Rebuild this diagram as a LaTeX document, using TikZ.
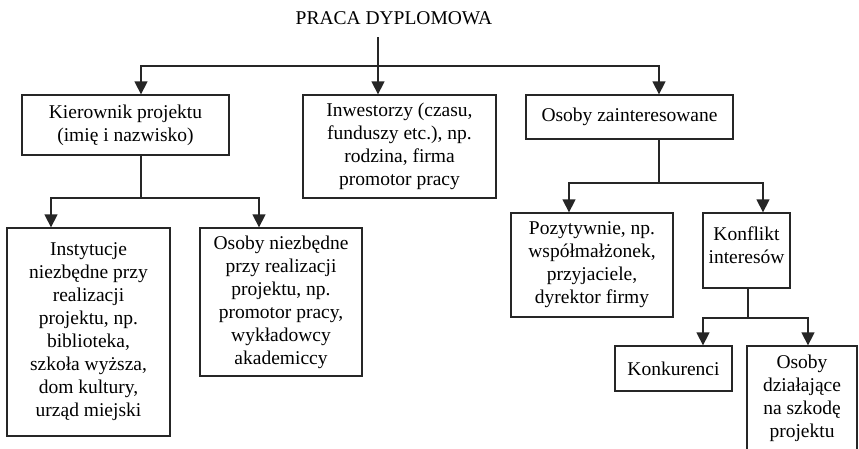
\documentclass[tikz,border=0pt]{standalone}
\usepackage{fontspec}
\setmainfont{Liberation Serif}
\usetikzlibrary{arrows.meta}

\begin{document}
\begin{tikzpicture}[
  x=1pt, y=-1pt,
  % === Node styles ===
  box/.style={
    draw=black!85, line width=1.3pt,
    align=center, inner sep=0pt,
    font=\rmfamily\fontsize{19.5}{23}\selectfont
  },
  heading/.style={
    inner xsep=0pt, inner ysep=12pt,
    font=\rmfamily\fontsize{19.5}{23}\selectfont
  },
  % === Arrow styles ===
  line/.style={draw=black!85, line width=1.3pt},
  arr/.style={line, -{Triangle[width=13pt, length=13pt]}},
]

\useasboundingbox[fill=white] (0,0) rectangle (859,448);

% =============================================
% Title
% =============================================
\node[heading] (ttl) at (394,18.5) {PRACA DYPLOMOWA};

% =============================================
% Level 1
% =============================================
\node[box, minimum width=207pt, minimum height=60pt] (kier) at (125.5,125)
  {Kierownik projektu\\(imię i nazwisko)};
\node[box, minimum width=193pt, minimum height=103pt] (inw) at (399.5,146.5)
  {Inwestorzy (czasu,\\funduszy etc.), np.\\rodzina, firma\\promotor pracy};
\node[box, minimum width=207pt, minimum height=44pt] (zain) at (629.5,117)
  {Osoby zainteresowane};

% =============================================
% Level 2
% =============================================
\node[box, minimum width=163pt, minimum height=208pt] (inst) at (88.5,332)
  {Instytucje\\niezbędne przy\\realizacji\\projektu, np.\\biblioteka,\\szkoła wyższa,\\dom kultury,\\urząd miejski};
\node[box, minimum width=162pt, minimum height=148pt] (niez) at (281,302)
  {Osoby niezbędne\\przy realizacji\\projektu, np.\\promotor pracy,\\wykładowcy\\akademiccy};
\node[box, minimum width=162pt, minimum height=104pt] (poz) at (592,265)
  {Pozytywnie, np.\\współmałżonek,\\przyjaciele,\\dyrektor firmy};
\node[box, minimum width=87pt, minimum height=75pt] (konf) at (746.5,250.5)
  {Konflikt\\interesów\\[-12pt]};

% =============================================
% Level 3
% =============================================
\node[box, minimum width=117pt, minimum height=45pt] (konk) at (673.5,368.5)
  {Konkurenci};
\node[box, minimum width=110pt, minimum height=104pt] (szk) at (802,398)
  {Osoby\\działające\\na szkodę\\projektu};

% =============================================
% Connectors
% =============================================
\coordinate (b0) at (378,66);
\coordinate (b1) at (141,198);
\coordinate (b2) at (659,183);
\coordinate (b3) at (748,318);

\draw[line] (ttl.south -| b0) -- (b0);
\draw[arr] (b0) -- (b0 |- inw.north);
\draw[arr] (b0) -| ([xshift=15.5pt]kier.north);
\draw[arr] (b0) -| ([xshift=29.5pt]zain.north);

\draw[line] (kier.south -| b1) -- (b1);
\draw[arr] (b1) -| ([xshift=-37.5pt]inst.north);
\draw[arr] (b1) -| ([xshift=-22pt]niez.north);

\draw[line] (zain.south -| b2) -- (b2);
\draw[arr] (b2) -| ([xshift=-23pt]poz.north);
\draw[arr] (b2) -| ([xshift=16.5pt]konf.north);

\draw[line] (konf.south -| b3) -- (b3);
\draw[arr] (b3) -| ([xshift=29.5pt]konk.north);
\draw[arr] (b3) -| ([xshift=6pt]szk.north);

\end{tikzpicture}
\end{document}
